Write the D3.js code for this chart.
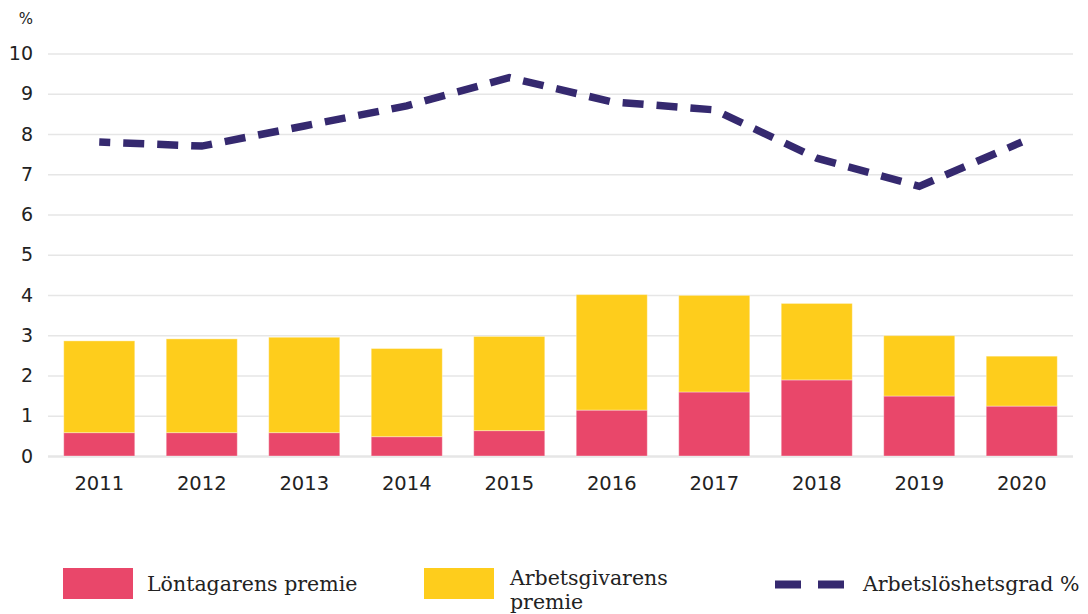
<!DOCTYPE html>
<html>
<head>
<meta charset="utf-8">
<script src="https://cdn.jsdelivr.net/npm/d3@7"></script>
<style>
  body { margin: 0; background: #fff; }
  .tick text { font-family: "DejaVu Sans", sans-serif; fill: #222; }
  .legend text { font-family: "DejaVu Serif", serif; fill: #222; font-size: 20.5px; }
</style>
</head>
<body>
<div id="plot"></div>
<script>
// chart values
const years = ["2011", "2012", "2013", "2014", "2015", "2016", "2017", "2018", "2019", "2020"];
const lontagare = [0.58, 0.58, 0.58, 0.48, 0.63, 1.14, 1.59, 1.89, 1.49, 1.24];
const arbetsgivare = [2.28, 2.33, 2.37, 2.19, 2.34, 2.87, 2.40, 1.90, 1.50, 1.24];
const arbetsloshet = [7.8, 7.7, 8.2, 8.7, 9.4, 8.8, 8.6, 7.4, 6.7, 7.8];
const yTicks = [0, 1, 2, 3, 4, 5, 6, 7, 8, 9, 10];

const w = 1088;
const h = 614;
const margin = {top: 53.5, right: 15, bottom: 158, left: 48};
const innerWidth = w - margin.left - margin.right;
const innerHeight = h - margin.top - margin.bottom;

const red = "#e9476a";
const yellow = "#fecd1c";
const purple = "#35296f";

const svg = d3.select("div#plot")
    .append("svg")
    .attr("width", w)
    .attr("height", h);

const g = svg.append("g")
    .attr("transform", `translate(${margin.left}, ${margin.top})`);

const xScale = d3.scaleBand()
    .domain(years)
    .range([0, innerWidth])
    .paddingInner(0.307)
    .paddingOuter(0.1535);

const yScale = d3.scaleLinear()
    .domain([0, 10])
    .range([innerHeight, 0]);

// y axis with gridlines
const yAxis = d3.axisLeft(yScale)
    .tickValues(yTicks)
    .tickSize(-innerWidth)
    .tickPadding(15)
    .tickFormat(d3.format("d"));

g.append("g")
    .attr("class", "yAxis")
    .call(yAxis)
    .call(a => a.select(".domain").remove())
    .call(a => a.selectAll(".tick line")
        .attr("stroke", "#e6e6e6")
        .attr("stroke-width", d => d === 0 ? 2.5 : 1.5))
    .call(a => a.selectAll(".tick text")
        .attr("font-size", 19)
        .attr("x", -15));

svg.append("text")
    .attr("x", 33)
    .attr("y", 24)
    .attr("text-anchor", "end")
    .attr("font-family", "DejaVu Sans, sans-serif")
    .attr("font-size", 15)
    .attr("fill", "#222")
    .text("%");

// stacked bars
const stackData = years.map((y, i) => ({year: y, lon: lontagare[i], arb: arbetsgivare[i]}));
const series = d3.stack().keys(["lon", "arb"])(stackData);
const colors = {lon: red, arb: yellow};

g.append("g")
  .selectAll("g")
  .data(series)
  .join("g")
    .attr("fill", d => colors[d.key])
  .selectAll("rect")
  .data(d => d)
  .join("rect")
    .attr("x", d => xScale(d.data.year))
    .attr("y", d => yScale(d[1]))
    .attr("width", xScale.bandwidth())
    .attr("height", d => yScale(d[0]) - yScale(d[1]))
    .attr("stroke", "#fff")
    .attr("stroke-opacity", 0.35)
    .attr("stroke-width", 1);

// x axis labels
const xAxis = d3.axisBottom(xScale)
    .tickSize(0)
    .tickPadding(20);

g.append("g")
    .attr("class", "xAxis")
    .attr("transform", `translate(0, ${innerHeight})`)
    .call(xAxis)
    .call(a => a.select(".domain").remove())
    .call(a => a.selectAll(".tick text").attr("font-size", 19.5));

// unemployment line
const line = d3.line()
    .x((d, i) => xScale(years[i]) + xScale.bandwidth() / 2)
    .y(d => yScale(d));

g.append("path")
    .datum(arbetsloshet)
    .attr("fill", "none")
    .attr("stroke", purple)
    .attr("stroke-width", 7.5)
    .attr("stroke-dasharray", "21,13")
    .attr("stroke-dashoffset", 10)
    .attr("d", line);

// legend
const legend = svg.append("g").attr("class", "legend");

legend.append("rect")
    .attr("x", 63).attr("y", 568)
    .attr("width", 70).attr("height", 31)
    .attr("fill", red);
legend.append("text")
    .attr("x", 147).attr("y", 591)
    .text("Löntagarens premie");

legend.append("rect")
    .attr("x", 424).attr("y", 568)
    .attr("width", 70).attr("height", 31)
    .attr("fill", yellow);
legend.append("text")
    .attr("x", 510).attr("y", 585)
    .text("Arbetsgivarens");
legend.append("text")
    .attr("x", 510).attr("y", 609)
    .text("premie");

legend.append("line")
    .attr("x1", 775).attr("x2", 844)
    .attr("y1", 584.5).attr("y2", 584.5)
    .attr("stroke", purple)
    .attr("stroke-width", 8)
    .attr("stroke-dasharray", "26,17");
legend.append("text")
    .attr("x", 863).attr("y", 591)
    .text("Arbetslöshetsgrad %");
</script>
</body>
</html>
